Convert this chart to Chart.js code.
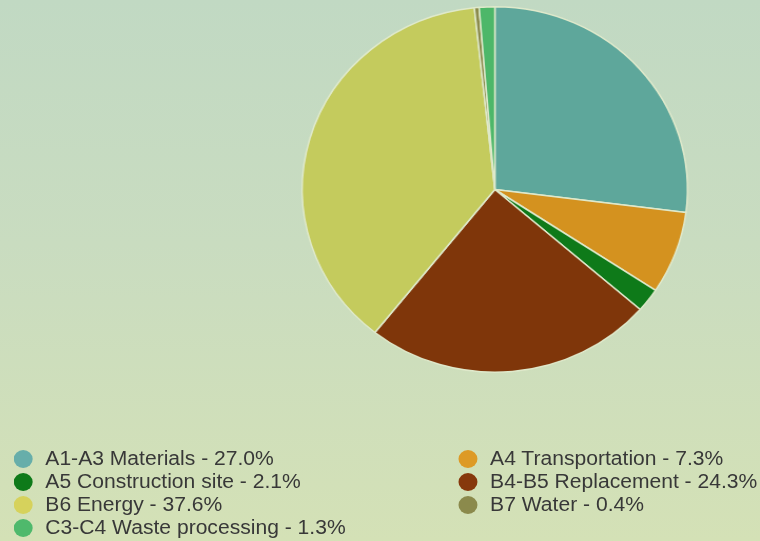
<!DOCTYPE html>
<html>
<head>
<meta charset="utf-8">
<script src="https://cdn.jsdelivr.net/npm/chart.js@4/dist/chart.umd.min.js"></script>
<style>
  html, body { margin: 0; padding: 0; }
  body {
    width: 760px; height: 541px; overflow: hidden;
    background: linear-gradient(180deg, #c1d9c3 0%, #c9dcc0 45%, #d4e1b6 100%);
  }
  /* the whole panel is drawn a bit wider than tall */
  #panel {
    position: relative; width: 721px; height: 541px;
    transform: scaleX(1.054); transform-origin: 0 0;
  }
  #chart { position: absolute; left: 0; top: 0; }
  #legend {
    position: absolute; left: 0; top: 447px; width: 721px;
    font-family: "Liberation Sans", Arial, sans-serif; font-size: 20px; color: #383838;
  }
  .item { position: absolute; height: 23px; line-height: 23px; white-space: nowrap; }
  .dot {
    display: inline-block; width: 18px; height: 18px; border-radius: 50%;
    vertical-align: -3px; margin-right: 12px;
  }
</style>
</head>
<body>
<div id="panel">
  <canvas id="chart" width="721" height="541"></canvas>
  <div id="legend"></div>
</div>
<script>
const categories = [
  'A1-A3 Materials',
  'A4 Transportation',
  'A5 Construction site',
  'B4-B5 Replacement',
  'B6 Energy',
  'B7 Water',
  'C3-C4 Waste processing'
];
const shares = [27.0, 7.3, 2.1, 24.3, 37.6, 0.4, 1.3];
const colours = ['#5ea79b', '#d4921f', '#0e7a19', '#7f360a', '#c4cb5d', '#8b8a4c', '#4db769'];
const dotColours = ['#67aeaa', '#dd9a26', '#0e7a19', '#86380c', '#d6d25c', '#8b8a4c', '#4fb96c'];

const ctx = document.getElementById('chart');

const pie = new Chart(ctx, {
  type: 'pie',
  data: {
    labels: categories,
    datasets: [{
      data: shares,
      backgroundColor: colours,
      borderColor: '#dfe9cb',
      borderWidth: 1.5
    }]
  },
  options: {
    responsive: false,
    animation: false,
    layout: {
      padding: { left: 286, right: 68, top: 6, bottom: 168 }
    },
    plugins: {
      legend: { display: false },
      tooltip: { enabled: false }
    }
  }
});

// two-column legend, filled row by row
const legend = document.getElementById('legend');
const colX = [13, 435];
categories.forEach(function (name, i) {
  const item = document.createElement('div');
  item.className = 'item';
  item.style.left = colX[i % 2] + 'px';
  item.style.top = (Math.floor(i / 2) * 23) + 'px';
  const dot = document.createElement('span');
  dot.className = 'dot';
  dot.style.background = dotColours[i];
  item.appendChild(dot);
  item.appendChild(document.createTextNode(name + ' - ' + shares[i].toFixed(1) + '%'));
  legend.appendChild(item);
});
</script>
</body>
</html>
